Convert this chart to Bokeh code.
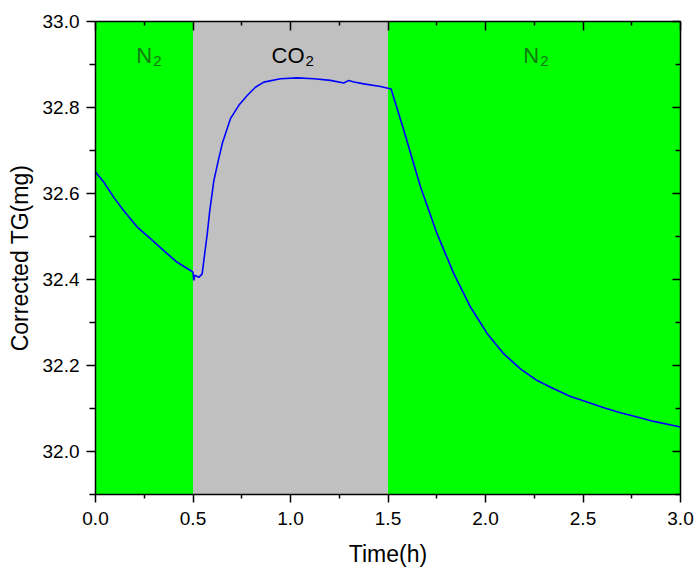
from bokeh.plotting import figure
from bokeh.models import (LinearAxis, FixedTicker, PrintfTickFormatter, Range1d,
                          BoxAnnotation, Label)
from bokeh.embed import file_html
from bokeh.resources import INLINE

# ---- data ----
time_h = [0.0, 0.043, 0.094, 0.145, 0.214, 0.282, 0.35, 0.419, 0.487, 0.500,
          0.504, 0.51, 0.53, 0.547, 0.56, 0.573, 0.586, 0.607, 0.63, 0.65,
          0.692, 0.735, 0.778, 0.82, 0.863, 0.949, 1.034, 1.12, 1.205, 1.273,
          1.299, 1.32, 1.376, 1.462, 1.516, 1.581, 1.667, 1.752, 1.838, 1.923,
          2.009, 2.094, 2.179, 2.265, 2.35, 2.436, 2.521, 2.607, 2.692, 2.778,
          2.863, 3.0]
tg_mg = [32.650, 32.626, 32.591, 32.560, 32.522, 32.495, 32.467, 32.440, 32.421, 32.417,
         32.398, 32.410, 32.405, 32.413, 32.460, 32.506, 32.560, 32.630, 32.677, 32.716,
         32.774, 32.805, 32.828, 32.847, 32.859, 32.867, 32.869, 32.867, 32.863, 32.857,
         32.863, 32.860, 32.855, 32.849, 32.843, 32.747, 32.615, 32.506, 32.413, 32.336,
         32.274, 32.227, 32.192, 32.165, 32.146, 32.128, 32.115, 32.102, 32.090, 32.080,
         32.070, 32.057]

region_start = [0.0, 0.5, 1.5]
region_end = [0.5, 1.5, 3.0]
region_gas = ["N", "CO", "N"]
region_sub = ["2", "2", "2"]
region_color = ["#00FF00", "#C0C0C0", "#00FF00"]
region_text_color = ["#127A12", "#000000", "#127A12"]

x_ticks = [0.0, 0.5, 1.0, 1.5, 2.0, 2.5, 3.0]
x_minor = [0.25, 0.75, 1.25, 1.75, 2.25, 2.75]
y_ticks = [32.0, 32.2, 32.4, 32.6, 32.8, 33.0]
y_minor = [31.9, 32.1, 32.3, 32.5, 32.7, 32.9]

FONT = "Liberation Sans"

p = figure(width=696, height=569, output_backend="svg", toolbar_location=None,
           x_range=Range1d(0, 3.0), y_range=Range1d(31.9, 33.0),
           min_border_left=95, min_border_right=16, min_border_top=21,
           min_border_bottom=75)
p.outline_line_color = None
p.grid.visible = False
p.background_fill_color = "white"

# background regions
for s, e, c in zip(region_start, region_end, region_color):
    p.add_layout(BoxAnnotation(left=s, right=e, fill_color=c, fill_alpha=1.0,
                               line_color=None, level="underlay"))

p.line(time_h, tg_mg, line_color="#0000FF", line_width=1.6)

# labels
offsets = [(8, 9), (14, 15), (5, 6)]
for s, e, g, sb, tc, (o1, o2) in zip(region_start, region_end, region_gas,
                                     region_sub, region_text_color, offsets):
    cx = (s + e) / 2
    p.add_layout(Label(x=cx, y=32.922, x_offset=o1, text=g, text_align="right",
                       text_baseline="alphabetic", text_font=FONT,
                       text_font_size="22px", text_color=tc))
    p.add_layout(Label(x=cx, y=32.907, x_offset=o2, text=sb, text_align="left",
                       text_baseline="alphabetic", text_font=FONT,
                       text_font_size="15px", text_color=tc))

def style(ax, ticks, minor, tick_in, tick_out, minor_in, minor_out):
    ax.ticker = FixedTicker(ticks=ticks, minor_ticks=minor)
    ax.formatter = PrintfTickFormatter(format="%.1f")
    ax.axis_line_color = "black"
    ax.axis_line_width = 1.5
    ax.major_tick_line_color = "black"
    ax.major_tick_line_width = 1.5
    ax.minor_tick_line_color = "black"
    ax.minor_tick_line_width = 1.5
    ax.major_tick_in = tick_in
    ax.major_tick_out = tick_out
    ax.minor_tick_in = minor_in
    ax.minor_tick_out = minor_out
    ax.major_label_text_font = FONT
    ax.major_label_text_font_size = "19px"
    ax.major_label_text_color = "black"
    ax.axis_label_text_font = FONT
    ax.axis_label_text_font_size = "23px"
    ax.axis_label_text_font_style = "normal"
    ax.axis_label_text_color = "black"

xa = p.xaxis[0]
style(xa, x_ticks, x_minor, 0, 8, 0, 4)
xa.axis_label = "Time(h)"
xa.major_label_standoff = 9
xa.axis_label_standoff = 13

ya = p.yaxis[0]
style(ya, y_ticks, y_minor, 0, 9, 0, 6)
ya.axis_label = "Corrected TG(mg)"
ya.major_label_standoff = 7
ya.axis_label_standoff = 7

top = LinearAxis()
style(top, x_ticks, x_minor, 9, 0, 4, 0)
top.major_label_overrides = {t: "" for t in x_ticks}
top.major_label_text_color = None
top.major_label_standoff = 0
p.add_layout(top, "above")

right = LinearAxis()
style(right, y_ticks, y_minor, 8, 0, 5, 0)
right.major_label_overrides = {t: "" for t in y_ticks}
right.major_label_text_color = None
right.major_label_standoff = 0
p.add_layout(right, "right")

open("out.html", "w").write(file_html(p, INLINE))
